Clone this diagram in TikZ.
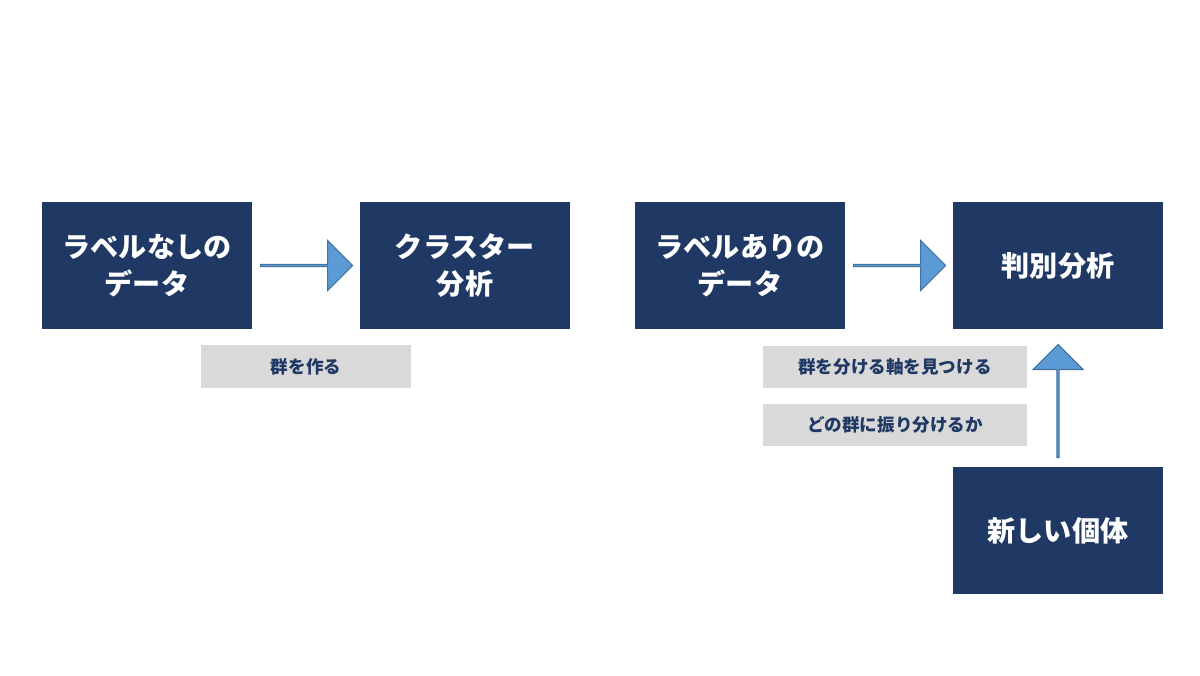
\documentclass[tikz,border=0pt]{standalone}
\usepackage{fontspec}
\setmainfont{Noto Sans CJK JP}
\usetikzlibrary{shapes.arrows}
\definecolor{navy}{HTML}{1F3864}
\definecolor{arrowblue}{HTML}{5B9BD5}
\definecolor{arrowedge}{HTML}{41719C}
\definecolor{tagbg}{HTML}{D9D9D9}

\begin{document}
\begin{tikzpicture}[
  box/.style={fill=navy,text=white,font=\bfseries\fontsize{16}{21}\selectfont,
    minimum width=4.2cm,minimum height=2.54cm,align=center,inner sep=0},
  tag/.style={fill=tagbg,text=navy,font=\bfseries\fontsize{10}{12}\selectfont,
    minimum height=0.85cm,inner sep=0},
  flow/.style={single arrow,fill=arrowblue,draw=arrowedge,line width=0.6pt,
    minimum width=1.0cm,minimum height=1.84cm,single arrow head extend=0.24cm,inner sep=0}]

\useasboundingbox (0,0) rectangle (24,-13.5);

\node[box] (nolabel) at (2.94,-5.31)  {ラベルなしの\\データ};
\node[box] (cluster) at (9.30,-5.31)  {クラスター\\分析};
\node[box] (label)   at (14.80,-5.31) {ラベルありの\\データ};
\node[box] (discrim) at (21.16,-5.31) {判別分析};
\node[box] (newone)  at (21.16,-10.61) {新しい個体};

\node[flow] (a1) at (6.12,-5.31) {};
\node[flow] (a2) at (17.98,-5.31) {};
\node[flow,rotate=90,minimum height=2.26cm] (a3) at (21.16,-8.03) {};

\node[tag,minimum width=4.2cm]  (t1) at (6.12,-7.33)  {群を作る};
\node[tag,minimum width=5.28cm] (t2) at (17.90,-7.34) {群を分ける軸を見つける};
\node[tag,minimum width=5.28cm] (t3) at (17.90,-8.50) {どの群に振り分けるか};
\end{tikzpicture}
\end{document}
